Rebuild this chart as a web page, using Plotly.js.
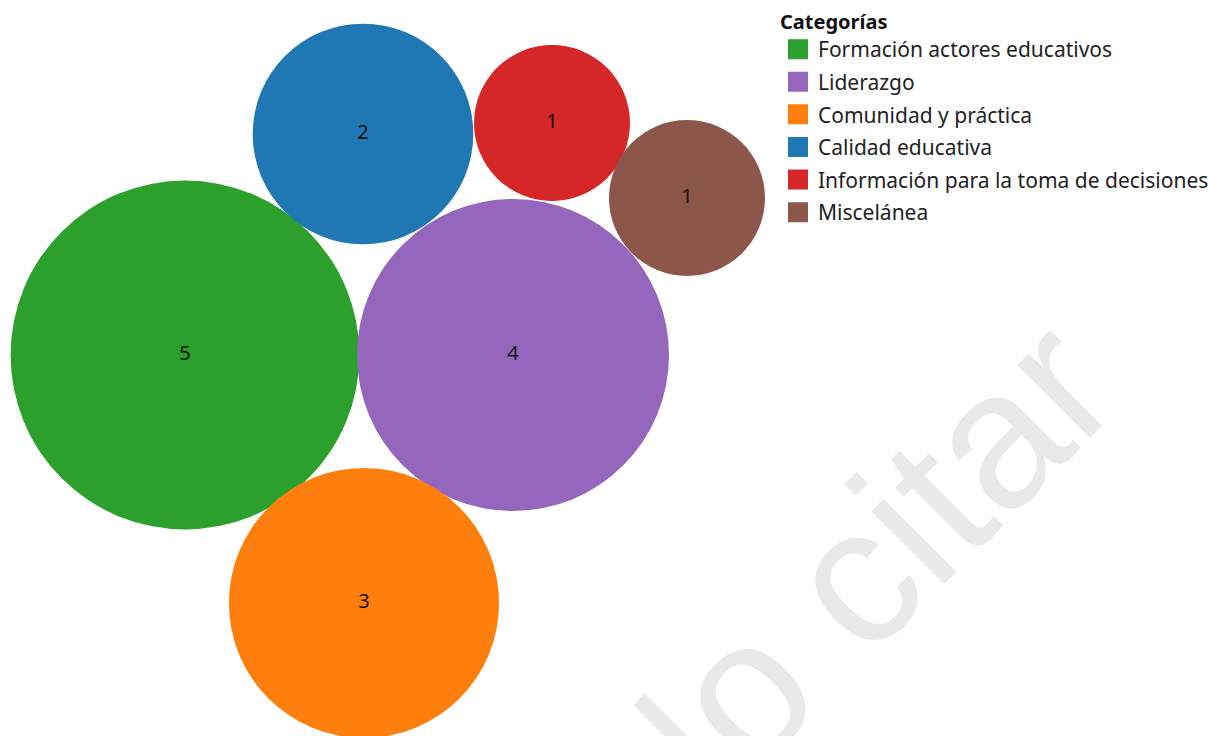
<!DOCTYPE html>
<html>
<head>
<meta charset="utf-8">
<script src="https://cdn.plot.ly/plotly-3.0.1.min.js"></script>
<style>html,body{margin:0;padding:0;background:#fff;}#chart{width:1208px;height:736px;}</style>
</head>
<body>
<div id="chart"></div>
<script>
// Data
const categories = ["Formación actores educativos", "Liderazgo", "Comunidad y práctica", "Calidad educativa", "Información para la toma de decisiones", "Miscelánea"];
const counts = [5, 4, 3, 2, 1, 1];
const colors = ["#2ca02c", "#9467bd", "#ff7f0e", "#1f77b4", "#d62728", "#8c564b"];
// packed-bubble layout centres (pixel space of the plot)
const bubbleX = [185, 513, 364, 363, 552, 687];
const bubbleY = [355, 355, 603, 134, 123, 198];
const legendTitle = "Categorías";
const watermark = "No citar";

const unitRadius = 78; // radius (px) of a bubble with value 1

const bubbles = {
  type: "scatter",
  mode: "markers+text",
  x: bubbleX,
  y: bubbleY,
  text: counts.map(String),
  textposition: "middle center",
  textfont: {family: "Noto Sans, sans-serif", size: 20, color: "#111"},
  marker: {
    size: counts,
    sizemode: "area",
    sizeref: 1 / (2 * unitRadius * unitRadius),
    color: colors,
    opacity: 1,
    line: {width: 0}
  },
  hovertext: categories,
  hoverinfo: "text",
  showlegend: false,
  cliponaxis: false
};

const legendTraces = categories.map((c, i) => ({
  type: "scatter",
  mode: "markers",
  x: [null],
  y: [null],
  name: c,
  legendgroup: "g" + i,
  marker: {symbol: "square", size: 16, color: colors[i], line: {width: 4, color: colors[i]}},
  showlegend: true
}));

const layout = {
  width: 1208,
  height: 736,
  margin: {l: 0, r: 0, t: 0, b: 0, autoexpand: false},
  paper_bgcolor: "#fff",
  plot_bgcolor: "#fff",
  xaxis: {range: [0, 1208], visible: false, fixedrange: true},
  yaxis: {range: [736, 0], visible: false, fixedrange: true},
  showlegend: true,
  legend: {
    x: 778 / 1208, xanchor: "left",
    y: 1 - 3 / 736, yanchor: "top",
    traceorder: "grouped",
    tracegroupgap: 2.3,
    font: {family: "Noto Sans, sans-serif", size: 21, color: "#222"},
    title: {text: "<b>" + legendTitle + "</b>", font: {family: "Noto Sans, sans-serif", size: 20, color: "#111"}},
    bgcolor: "rgba(0,0,0,0)",
    itemwidth: 30
  },
  annotations: [{
    text: watermark,
    x: 841, y: 591, xref: "x", yref: "y",
    showarrow: false,
    textangle: -45,
    font: {family: "Liberation Sans, Arial, sans-serif", size: 195, color: "#e9e9e9"}
  }]
};

Plotly.newPlot("chart", [bubbles].concat(legendTraces), layout, {displayModeBar: false, staticPlot: true});
</script>
</body>
</html>
